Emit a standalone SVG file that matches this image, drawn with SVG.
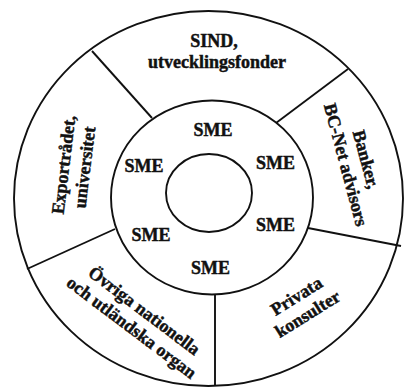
<svg xmlns="http://www.w3.org/2000/svg" width="404" height="388" viewBox="0 0 404 388">
<style>
.ring{fill:none;stroke:#111;stroke-width:1.9}
.div{stroke:#111;stroke-width:1.9;fill:none}
text{font-family:"Liberation Serif","Times New Roman",serif;font-weight:bold;font-size:18px;fill:#111;stroke:#111;stroke-width:0.45;text-anchor:middle}
</style>
<rect width="404" height="388" fill="#fff"/>
<g id="rings">
<ellipse class="ring" cx="208.5" cy="198.5" rx="194.5" ry="187.5"/>
<ellipse class="ring" cx="212" cy="197.5" rx="101" ry="97"/>
<ellipse class="ring" cx="209" cy="193" rx="43" ry="39"/>
</g>
<g id="connectors">
<line class="div" x1="152" y1="118" x2="92" y2="51"/>
<line class="div" x1="276" y1="123" x2="348" y2="69"/>
<line class="div" x1="308" y1="228" x2="401" y2="246"/>
<line class="div" x1="215" y1="294" x2="215" y2="386"/>
<line class="div" x1="115" y1="229" x2="27" y2="269"/>
</g>
<g id="sme">
<text x="213" y="136">SME</text>
<text x="144" y="172">SME</text>
<text x="275.5" y="169">SME</text>
<text x="151" y="241">SME</text>
<text x="275.5" y="231">SME</text>
<text x="210.5" y="274">SME</text>
</g>
<g id="sind">
<text x="214" y="47">SIND,</text>
<text x="217" y="68">utvecklingsfonder</text>
</g>
<g id="banker">
<text transform="translate(356,162) rotate(75)"><tspan x="0" y="-4.5">Banker,</tspan><tspan x="0" y="16.5">BC-Net advisors</tspan></text>
</g>
<g id="privata">
<text transform="translate(302,305) rotate(-32)"><tspan x="0" y="-4.5">Privata</tspan><tspan x="0" y="16.5">konsulter</tspan></text>
</g>
<g id="ovriga">
<text transform="translate(138,319) rotate(37)"><tspan x="0" y="-4.5">Övriga nationella</tspan><tspan x="0" y="16.5">och utländska organ</tspan></text>
</g>
<g id="exportradet">
<text transform="translate(74,166) rotate(-83)"><tspan x="0" y="-4.5">Exportrådet,</tspan><tspan x="0" y="16.5">universitet</tspan></text>
</g>
</svg>
